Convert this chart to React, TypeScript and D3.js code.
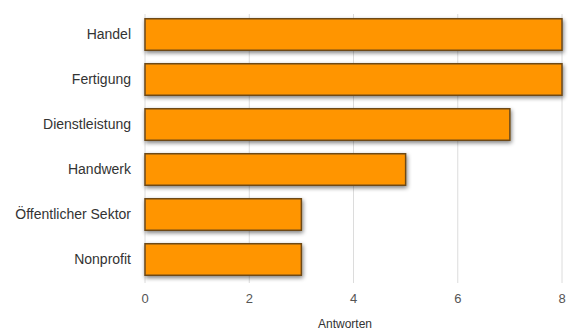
import React from "react";
import * as d3 from "d3";

const categories = ["Handel", "Fertigung", "Dienstleistung", "Handwerk", "Öffentlicher Sektor", "Nonprofit"];
const values = [8, 8, 7, 5, 3, 3];
const xTicks = [0, 2, 4, 6, 8];
const xLabel = "Antworten";

export default function App() {
  const W = 572, H = 331;
  const x = d3.scaleLinear().domain([0, 8]).range([145, 562]);
  const y = d3.scaleBand().domain(categories).range([12, 282]).paddingInner(0.3).paddingOuter(0.15);
  const font = "Helvetica, 'Liberation Sans', Arial, sans-serif";
  return (
    <svg width={W} height={H} style={{ position: "absolute", left: 0, top: 0 }}>
      <defs>
        <filter id="sh" x="-10%" y="-30%" width="120%" height="160%">
          <feGaussianBlur in="SourceAlpha" stdDeviation="2" />
          <feOffset dx="1" dy="2" result="b" />
          <feComponentTransfer><feFuncA type="linear" slope="0.5" /></feComponentTransfer>
          <feMerge><feMergeNode /><feMergeNode in="SourceGraphic" /></feMerge>
        </filter>
      </defs>
      <rect width={W} height={H} fill="#fff" />
      {xTicks.map(t => (
        <line key={t} x1={x(t)} x2={x(t)} y1={14} y2={283} stroke="#dcdcdc" strokeWidth={1} />
      ))}
      {categories.map((c, i) => (
        <g key={c}>
          <rect x={x(0)} y={y(c)!} width={x(values[i]) - x(0)} height={y.bandwidth()}
            fill="#ff9500" stroke="#6e4a18" strokeWidth={1.5} filter="url(#sh)" />
          <text x={131} y={y(c)! + y.bandwidth() / 2} dy="0.35em" textAnchor="end"
            fontFamily={font} fontSize={14} fill="#333">{c}</text>
        </g>
      ))}
      {xTicks.map(t => (
        <text key={t} x={x(t)} y={303} textAnchor="middle" fontFamily={font} fontSize={13} fill="#555">{t}</text>
      ))}
      <text x={345} y={328} textAnchor="middle" fontFamily={font} fontSize={12} fill="#333">{xLabel}</text>
    </svg>
  );
}
